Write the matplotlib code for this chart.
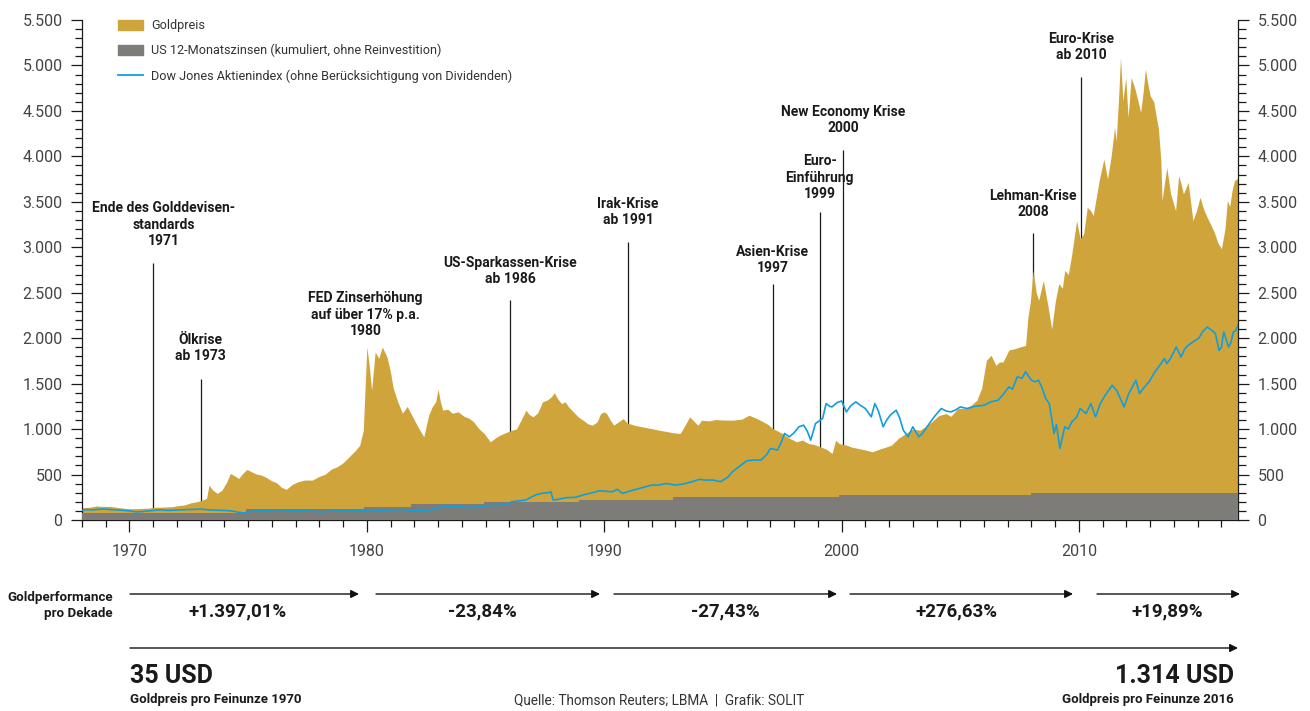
import matplotlib
matplotlib.use("Agg")
import matplotlib.pyplot as plt
from matplotlib.ticker import MultipleLocator, FuncFormatter
from matplotlib.patches import Patch, FancyArrowPatch
from matplotlib.lines import Line2D

plt.rcParams['font.family'] = ['Roboto', 'DejaVu Sans']

# Goldpreis (indexiert, 1970 = 100)
gold_t = [1968.0, 1968.3, 1968.6, 1968.9, 1969.2, 1969.5, 1969.8, 1970.0, 1970.4, 1970.8,
          1971.0, 1971.4, 1971.8, 1972.0, 1972.3, 1972.6, 1972.9, 1973.1, 1973.25, 1973.35,
          1973.5, 1973.7, 1973.9, 1974.1, 1974.25, 1974.4, 1974.6, 1974.8, 1974.95, 1975.15,
          1975.35, 1975.55, 1975.75, 1976.0, 1976.2, 1976.4, 1976.6, 1976.85, 1977.1, 1977.4,
          1977.7, 1978.0, 1978.25, 1978.5, 1978.75, 1979.0, 1979.25, 1979.5, 1979.7, 1979.85,
          1980.0, 1980.1, 1980.2, 1980.35, 1980.5, 1980.65, 1980.85, 1981.0, 1981.1, 1981.3,
          1981.5, 1981.7, 1981.9, 1982.1, 1982.25, 1982.4, 1982.6, 1982.75, 1982.9, 1983.0,
          1983.1, 1983.2, 1983.4, 1983.6, 1983.85, 1984.1, 1984.3, 1984.5, 1984.7, 1984.95,
          1985.2, 1985.4, 1985.6, 1985.85, 1986.1, 1986.3, 1986.5, 1986.7, 1986.85, 1987.0,
          1987.2, 1987.4, 1987.6, 1987.75, 1987.9, 1988.05, 1988.2, 1988.35, 1988.5, 1988.7,
          1988.9, 1989.1, 1989.3, 1989.5, 1989.7, 1989.85, 1990.0, 1990.1, 1990.25, 1990.4,
          1990.6, 1990.8, 1990.95, 1991.05, 1991.3, 1991.6, 1991.9, 1992.1, 1992.3, 1992.6,
          1992.9, 1993.2, 1993.4, 1993.6, 1993.8, 1993.95, 1994.1, 1994.4, 1994.7, 1995.0,
          1995.4, 1995.8, 1996.1, 1996.4, 1996.7, 1996.9, 1997.1, 1997.3, 1997.5, 1997.8,
          1998.1, 1998.35, 1998.6, 1998.85, 1999.1, 1999.35, 1999.6, 1999.75, 1999.9, 2000.2,
          2000.45, 2000.7, 2001.0, 2001.3, 2001.6, 2001.9, 2002.1, 2002.4, 2002.7, 2003.0,
          2003.3, 2003.55, 2003.8, 2004.1, 2004.4, 2004.6, 2004.9, 2005.2, 2005.45, 2005.7,
          2005.9, 2006.1, 2006.3, 2006.5, 2006.65, 2006.8, 2007.05, 2007.3, 2007.5, 2007.75,
          2007.85, 2007.95, 2008.07, 2008.2, 2008.3, 2008.5, 2008.7, 2008.85, 2009.0, 2009.15,
          2009.3, 2009.4, 2009.55, 2009.7, 2009.9, 2010.05, 2010.2, 2010.35, 2010.5, 2010.6,
          2010.85, 2011.05, 2011.2, 2011.35, 2011.5, 2011.57, 2011.68, 2011.75, 2011.85, 2011.97,
          2012.07, 2012.2, 2012.35, 2012.45, 2012.6, 2012.7, 2012.8, 2012.9, 2013.0, 2013.15,
          2013.25, 2013.35, 2013.45, 2013.5, 2013.6, 2013.7, 2013.86, 2014.07, 2014.2, 2014.3,
          2014.4, 2014.5, 2014.6, 2014.8, 2014.95, 2015.1, 2015.25, 2015.4, 2015.55, 2015.7,
          2015.85, 2016.0, 2016.15, 2016.25, 2016.35, 2016.45, 2016.55, 2016.7]
gold_v = [135, 140, 154, 150, 150, 138, 128, 124, 126, 130,
          139, 142, 146, 157, 165, 190, 205, 222, 240, 384,
          330, 293, 330, 420, 512, 490, 457, 520, 556, 530,
          505, 494, 470, 430, 410, 360, 337, 390, 421, 440,
          439, 480, 505, 560, 586, 630, 695, 760, 823, 988,
          1903, 1700, 1427, 1848, 1780, 1903, 1793, 1620, 1464, 1300,
          1175, 1250, 1150, 1050, 980, 915, 1150, 1244, 1300, 1439,
          1300, 1208, 1220, 1175, 1190, 1140, 1120, 1080, 1010, 950,
          860, 900, 933, 960, 988, 1000, 1100, 1208, 1160, 1135,
          1180, 1300, 1320, 1350, 1398, 1330, 1281, 1300, 1244, 1190,
          1135, 1100, 1060, 1043, 1080, 1171, 1189, 1171, 1100, 1043,
          1080, 1116, 1070, 1061, 1040, 1025, 1010, 1000, 988, 975,
          960, 952, 1040, 1135, 1080, 1043, 1098, 1090, 1105, 1100,
          1098, 1110, 1153, 1120, 1080, 1050, 1006, 980, 952, 900,
          860, 880, 842, 830, 805, 780, 732, 878, 840, 824,
          800, 787, 770, 750, 780, 805, 824, 900, 952, 1000,
          988, 1030, 1080, 1150, 1171, 1140, 1226, 1230, 1260, 1318,
          1450, 1757, 1812, 1700, 1738, 1739, 1870, 1885, 1903, 1921,
          2232, 2400, 2745, 2500, 2415, 2635, 2343, 2100, 2400, 2599,
          2550, 2745, 2700, 2928, 3294, 3092, 3150, 3440, 3400, 3349,
          3733, 3971, 3752, 3990, 4319, 4172, 4700, 5087, 4612, 4868,
          4429, 4868, 4750, 4649, 4484, 4700, 4960, 4800, 4667, 4600,
          4447, 4300, 3953, 3514, 3700, 3880, 3587, 3404, 3788, 3700,
          3587, 3650, 3715, 3294, 3400, 3550, 3420, 3330, 3250, 3166,
          3050, 2983, 3200, 3514, 3450, 3624, 3733, 3760]

# US 12-Monatszinsen, kumuliert (Stufen)
zins_t = [1968.0, 1974.9, 1979.9, 1981.86, 1984.95, 1988.95, 1992.9, 1999.9, 2008.0, 2016.7]
zins_v = [73, 121, 146, 176, 201, 220, 249, 275, 295, 295]

# Dow Jones (indexiert)
dow_t = [1968.0, 1968.2, 1968.4, 1968.7, 1968.9, 1969.2, 1969.5, 1969.8, 1970.0, 1970.3,
         1970.5, 1970.8, 1971.0, 1971.3, 1971.6, 1971.9, 1972.2, 1972.5, 1972.8, 1973.0,
         1973.4, 1973.7, 1974.0, 1974.3, 1974.6, 1974.8, 1975.0, 1975.3, 1975.6, 1975.9,
         1976.2, 1976.5, 1976.8, 1977.1, 1977.5, 1977.9, 1978.1, 1978.4, 1978.8, 1979.2,
         1979.6, 1980.0, 1980.2, 1980.5, 1980.9, 1981.2, 1981.4, 1981.8, 1982.2, 1982.6,
         1982.9, 1983.3, 1983.7, 1984.0, 1984.3, 1984.7, 1985.0, 1985.4, 1985.9, 1986.1,
         1986.4, 1986.7, 1987.1, 1987.4, 1987.65, 1987.75, 1987.85, 1988.0, 1988.4, 1988.8,
         1989.1, 1989.5, 1989.8, 1990.1, 1990.35, 1990.55, 1990.77, 1991.1, 1991.5, 1992.0,
         1992.3, 1992.6, 1993.0, 1993.4, 1993.7, 1994.0, 1994.3, 1994.6, 1994.9, 1995.2,
         1995.4, 1995.7, 1996.0, 1996.3, 1996.6, 1996.85, 1997.0, 1997.3, 1997.45, 1997.6,
         1997.8, 1998.0, 1998.2, 1998.4, 1998.55, 1998.7, 1998.9, 1999.2, 1999.35, 1999.5,
         1999.6, 1999.8, 2000.0, 2000.2, 2000.4, 2000.6, 2000.8, 2001.0, 2001.25, 2001.4,
         2001.55, 2001.75, 2001.9, 2002.05, 2002.3, 2002.45, 2002.6, 2002.8, 2003.0, 2003.25,
         2003.4, 2003.6, 2003.9, 2004.2, 2004.4, 2004.6, 2004.8, 2005.0, 2005.3, 2005.6,
         2006.0, 2006.3, 2006.6, 2006.8, 2007.05, 2007.2, 2007.4, 2007.6, 2007.75, 2008.0,
         2008.15, 2008.3, 2008.45, 2008.6, 2008.75, 2008.95, 2009.05, 2009.2, 2009.4, 2009.55,
         2009.7, 2009.9, 2010.05, 2010.3, 2010.5, 2010.7, 2010.9, 2011.1, 2011.4, 2011.6,
         2011.9, 2012.1, 2012.4, 2012.55, 2012.75, 2012.95, 2013.2, 2013.4, 2013.6, 2013.7,
         2013.85, 2014.1, 2014.3, 2014.45, 2014.6, 2014.75, 2014.9, 2015.05, 2015.2, 2015.4,
         2015.6, 2015.75, 2015.9, 2016.0, 2016.1, 2016.3, 2016.4, 2016.5, 2016.6, 2016.7]
dow_v = [105, 115, 110, 118, 120, 115, 110, 105, 100, 88,
         92, 100, 105, 112, 105, 108, 112, 115, 118, 120,
         110, 108, 105, 100, 85, 78, 90, 100, 105, 108,
         112, 110, 108, 105, 100, 95, 90, 98, 100, 100,
         102, 100, 95, 105, 110, 112, 117, 108, 100, 110,
         130, 154, 150, 145, 135, 145, 157, 160, 165, 201,
         210, 220, 275, 295, 300, 311, 220, 225, 245, 250,
         275, 300, 322, 315, 311, 337, 293, 320, 348, 384,
         384, 402, 384, 400, 421, 447, 439, 439, 421, 470,
         530, 590, 651, 660, 659, 720, 787, 769, 850, 952,
         915, 960, 1025, 1043, 980, 878, 1061, 1116, 1281, 1250,
         1244, 1290, 1310, 1189, 1260, 1299, 1260, 1226, 1135, 1281,
         1200, 1025, 1100, 1153, 1208, 1120, 988, 915, 1025, 915,
         950, 1025, 1135, 1226, 1200, 1189, 1210, 1244, 1226, 1250,
         1262, 1300, 1318, 1380, 1464, 1440, 1574, 1560, 1629, 1537,
         1520, 1537, 1450, 1336, 1280, 952, 1050, 787, 1025, 1000,
         1080, 1130, 1226, 1171, 1281, 1135, 1281, 1370, 1482, 1420,
         1244, 1391, 1537, 1391, 1460, 1519, 1629, 1700, 1775, 1720,
         1775, 1903, 1793, 1880, 1921, 1950, 1976, 2000, 2068, 2122,
         2086, 2050, 1866, 1900, 2068, 1903, 1950, 2068, 2080, 2141]

# Ereignisse: Position, Linienende, Beschriftung
event_x = [1971.0, 1973.0, 1986.05, 1991.0, 1997.1, 1999.08, 2000.08, 2008.06, 2010.1]
event_top = [2827, 1551, 2420, 3058, 2596, 3388, 4070, 3157, 4873]

labels = ["Ende des Golddevisen-\nstandards\n1971", "Ölkrise\nab 1973",
          "FED Zinserhöhung\nauf über 17% p.a.\n1980", "US-Sparkassen-Krise\nab 1986",
          "Irak-Krise\nab 1991", "Asien-Krise\n1997", "Euro-\nEinführung\n1999",
          "New Economy Krise\n2000", "Lehman-Krise\n2008", "Euro-Krise\nab 2010"]
label_x = [1971.45, 1973.0, 1979.95, 1986.05, 1991.0, 1997.1, 1999.08, 2000.08, 2008.06, 2010.1]
label_y = [2992, 1727, 2002, 2574, 3223, 2695, 3509, 4235, 3311, 5038]

dekaden = ["+1.397,01%", "-23,84%", "-27,43%", "+276,63%", "+19,89%"]

GOLD = '#CFA53B'
GREY = '#7E7C78'
BLUE = '#119EDD'
INK = '#1a1a1a'

W, H = 1310, 711
fig = plt.figure(figsize=(W / 100, H / 100), dpi=100)
ax = fig.add_axes([82 / W, 1 - 520 / H, (1238 - 82) / W, 500 / H])

for x, top in zip(event_x, event_top):
    ax.vlines(x, 0, top, color=INK, lw=0.9, zorder=1)

ax.fill_between(gold_t, 0, gold_v, color=GOLD, lw=0, zorder=2)
ax.fill_between(zins_t, 0, zins_v, step='post', color=GREY, lw=0, zorder=3)
ax.plot(dow_t, dow_v, color=BLUE, lw=1.2, zorder=4)

for x, y, s in zip(label_x, label_y, labels):
    ax.text(x, y, s, ha='center', va='bottom', fontsize=10, fontweight='bold',
            color=INK, linespacing=1.22, zorder=5)

ax.set_xlim(1968, 2016.7)
ax.set_ylim(0, 5500)
ax.xaxis.set_major_locator(MultipleLocator(10))
ax.xaxis.set_minor_locator(MultipleLocator(1))
ax.yaxis.set_major_locator(MultipleLocator(500))
ax.yaxis.set_minor_locator(MultipleLocator(100))
ax.yaxis.set_major_formatter(FuncFormatter(lambda v, p: f"{int(v):,}".replace(",", ".")))

ax.spines['top'].set_visible(False)
for s in ['left', 'right', 'bottom']:
    ax.spines[s].set_color(INK)
    ax.spines[s].set_linewidth(0.9)
ax.tick_params(axis='y', which='both', right=True, labelright=True, direction='out',
               color=INK, width=0.9)
ax.tick_params(axis='y', which='major', length=8, pad=6, labelsize=11.5, labelcolor='#444444')
ax.tick_params(axis='y', which='minor', length=5.4)
ax.tick_params(axis='x', which='both', direction='out', color=INK, width=0.9)
ax.tick_params(axis='x', which='major', length=8.6, pad=9, labelsize=11.5, labelcolor='#444444')
ax.tick_params(axis='x', which='minor', length=5)

handles = [Patch(color=GOLD), Patch(color=GREY), Line2D([], [], color=BLUE, lw=1.3)]
names = ["Goldpreis", "US 12-Monatszinsen (kumuliert, ohne Reinvestition)",
         "Dow Jones Aktienindex (ohne Berücksichtigung von Dividenden)"]
ax.legend(handles, names, loc='upper left', bbox_to_anchor=(117.5 / W, 1 - 19 / H),
          bbox_transform=fig.transFigure, frameon=False, fontsize=9.1,
          handlelength=2.0, handleheight=0.85, handletextpad=0.65, labelspacing=0.95,
          borderpad=0, borderaxespad=0, labelcolor='#333333')


def fx(px):
    return px / W


def fy(py):
    return 1 - py / H


def arrow(x0, x1, y):
    fig.add_artist(FancyArrowPatch((fx(x0), fy(y)), (fx(x1), fy(y)), transform=fig.transFigure,
                                   arrowstyle='-|>', mutation_scale=12, lw=1.0, color='#111111',
                                   shrinkA=0, shrinkB=0))


fig.text(fx(113), fy(606), "Goldperformance\npro Dekade", ha='right', va='center',
         fontsize=9.6, fontweight='bold', color=INK, linespacing=1.3)

starts = [130, 376, 614, 850, 1097]
ends = [359, 600, 837, 1073, 1240]
centers = [238, 482, 725, 956, 1167]
for x0, x1, c, s in zip(starts, ends, centers, dekaden):
    arrow(x0, x1, 594)
    fig.text(fx(c), fy(611), s, ha='center', va='center', fontsize=13.5,
             fontweight='bold', color=INK)

arrow(130, 1238, 648)

fig.text(fx(130), fy(676), "35 USD", ha='left', va='center', fontsize=18,
         fontweight='bold', color=INK)
fig.text(fx(130), fy(700), "Goldpreis pro Feinunze 1970", ha='left', va='center',
         fontsize=9.5, fontweight='bold', color=INK)
fig.text(fx(1234), fy(676), "1.314 USD", ha='right', va='center', fontsize=18,
         fontweight='bold', color=INK)
fig.text(fx(1234), fy(700), "Goldpreis pro Feinunze 2016", ha='right', va='center',
         fontsize=9.5, fontweight='bold', color=INK)
fig.text(fx(659), fy(700), "Quelle: Thomson Reuters; LBMA  |  Grafik: SOLIT", ha='center',
         va='center', fontsize=9.8, color='#333333')

fig.savefig('out.png', dpi=100)
